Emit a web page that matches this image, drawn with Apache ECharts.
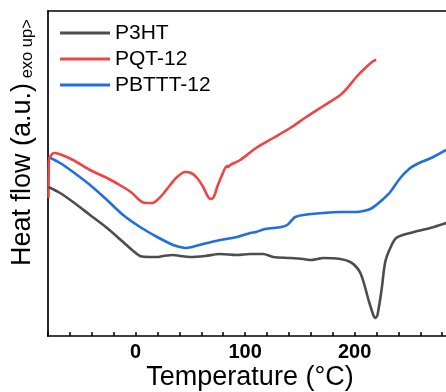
<!DOCTYPE html>
<html>
<head>
<meta charset="utf-8">
<script src="https://cdn.jsdelivr.net/npm/echarts@6/dist/echarts.min.js"></script>
<style>html,body{margin:0;padding:0;background:#fff}#c{width:446px;height:392px}</style>
</head>
<body>
<div id="c"></div>
<script>
// Temperature (°C), heat flow (arbitrary units)
const p3htT = [-79.5,-69.0,-57.1,-41.6,-26.1,-11.4,-3.2,4.1,13.3,19.7,25.1,34.3,40.7,49.8,63.5,77.2,92.8,104.7,112.0,116.5,125.7,141.2,153.1,160.4,165.9,171.4,187.0,196.1,201.6,205.3,208.5,213.0,217.1,219.0,220.9,224.5,228.0,232.6,238.1,250.9,269.1,283.7];
const p3htV = [149,143,134,121,108,94,86,80,79,79,80,81,80,79,80,82,81,82,82,82,79,78,77,76,77,78,77,74,69,63,53,35,21,18,21,45,74,88,98,103,108,113];

const pqtT = [-79.5,-79.1,-76.3,-73.6,-67.2,-57.1,-41.6,-26.1,-11.4,-3.2,1.4,5.9,10.5,15.1,19.7,25.1,31.5,37.9,45.2,50.7,56.2,61.7,66.3,69.0,71.8,74.5,78.2,81.8,83.6,84.6,86.4,95.5,110.1,125.7,141.2,155.9,171.4,187.0,194.2,201.6,210.7,217.1,219.8];
const pqtV = [138,176,182,183,181,176,166,158,149,143,138,134,133,133,136,142,151,159,164,163,158,149,139,137,140,149,159,168,170,169,171,176,188,198,208,219,230,241,249,259,269,275,276];

const pbtttT = [-79.5,-69.0,-57.1,-41.6,-26.1,-11.4,4.1,19.7,34.3,40.7,45.2,51.6,61.7,77.2,92.8,104.7,110.1,118.4,133.0,138.5,142.1,145.8,153.1,171.4,187.0,201.6,208.0,214.4,219.8,226.2,232.6,241.7,250.8,257.2,271.8,283.7];
const pbtttV = [179,173,164,151,136,121,109,99,91,89,88,89,92,96,99,103,104,107,109,111,115,119,121,123,124,124,125,127,131,137,144,158,168,172,179,186];

const seriesNames = ['P3HT','PQT-12','PBTTT-12'];
const seriesColors = ['#4d4d4d','#f04444','#1f6fdf'];
const xMajorLabels = [0,100,200];

const zip = (a,b) => a.map((v,i)=>[v,b[i]]);
const FONT = "'Liberation Sans', Arial, sans-serif";

const chart = echarts.init(document.getElementById('c'), null, {renderer:'canvas'});
const dataSets = [zip(p3htT,p3htV), zip(pqtT,pqtV), zip(pbtttT,pbtttV)];

chart.setOption({
  animation:false,
  backgroundColor:'#fff',
  grid:{left:48,right:0,top:11,bottom:56},
  legend:{
    orient:'vertical', left:55, top:17,
    itemWidth:50, itemHeight:3, itemGap:4,
    icon:'rect',
    data:seriesNames,
    textStyle:{fontFamily:FONT,fontSize:21,color:'#000',lineHeight:22}
  },
  xAxis:[{
    type:'value', min:-80, max:283.5, interval:20,
    axisLine:{show:true,onZero:false,lineStyle:{color:'#000',width:1.7}},
    axisTick:{show:true,inside:true,length:4,lineStyle:{color:'#000',width:1.5}},
    axisLabel:{
      margin:6, fontFamily:FONT, fontSize:20, fontWeight:'bold', color:'#000',
      showMinLabel:true, showMaxLabel:false,
      formatter:v => xMajorLabels.includes(v) ? String(v) : ''
    },
    splitLine:{show:false}
  },{
    type:'value', position:'top', min:-80, max:283.5,
    axisLine:{show:true,onZero:false,lineStyle:{color:'#000',width:1.7}},
    axisTick:{show:false}, axisLabel:{show:false}, splitLine:{show:false}
  }],
  yAxis:{
    type:'value', min:0, max:325,
    axisLine:{show:true,onZero:false,lineStyle:{color:'#000',width:1.7}},
    axisTick:{show:false}, axisLabel:{show:false}, splitLine:{show:false}
  },
  graphic:[
    {type:'text', x:250, y:378,
     style:{text:'Temperature (°C)', font:"27px 'Liberation Sans', Arial, sans-serif", fill:'#000', align:'center', verticalAlign:'middle'}},
    {type:'text', x:36, y:266, rotation:Math.PI/2,
     style:{text:'{a|Heat flow (a.u.)}{b| exo up>}', align:'left', verticalAlign:'bottom',
       rich:{a:{fontFamily:FONT,fontSize:27,fill:'#000',color:'#000',verticalAlign:'bottom'},
             b:{fontFamily:FONT,fontSize:16.5,fill:'#000',color:'#000',verticalAlign:'bottom'}}}}
  ],
  series:dataSets.map((d,i)=>({
    name:seriesNames[i], type:'line', data:d, smooth:0.3, symbol:'none',
    lineStyle:{color:seriesColors[i],width:2.6}, itemStyle:{color:seriesColors[i]},
    z:3-i
  }))
});
</script>
</body>
</html>
